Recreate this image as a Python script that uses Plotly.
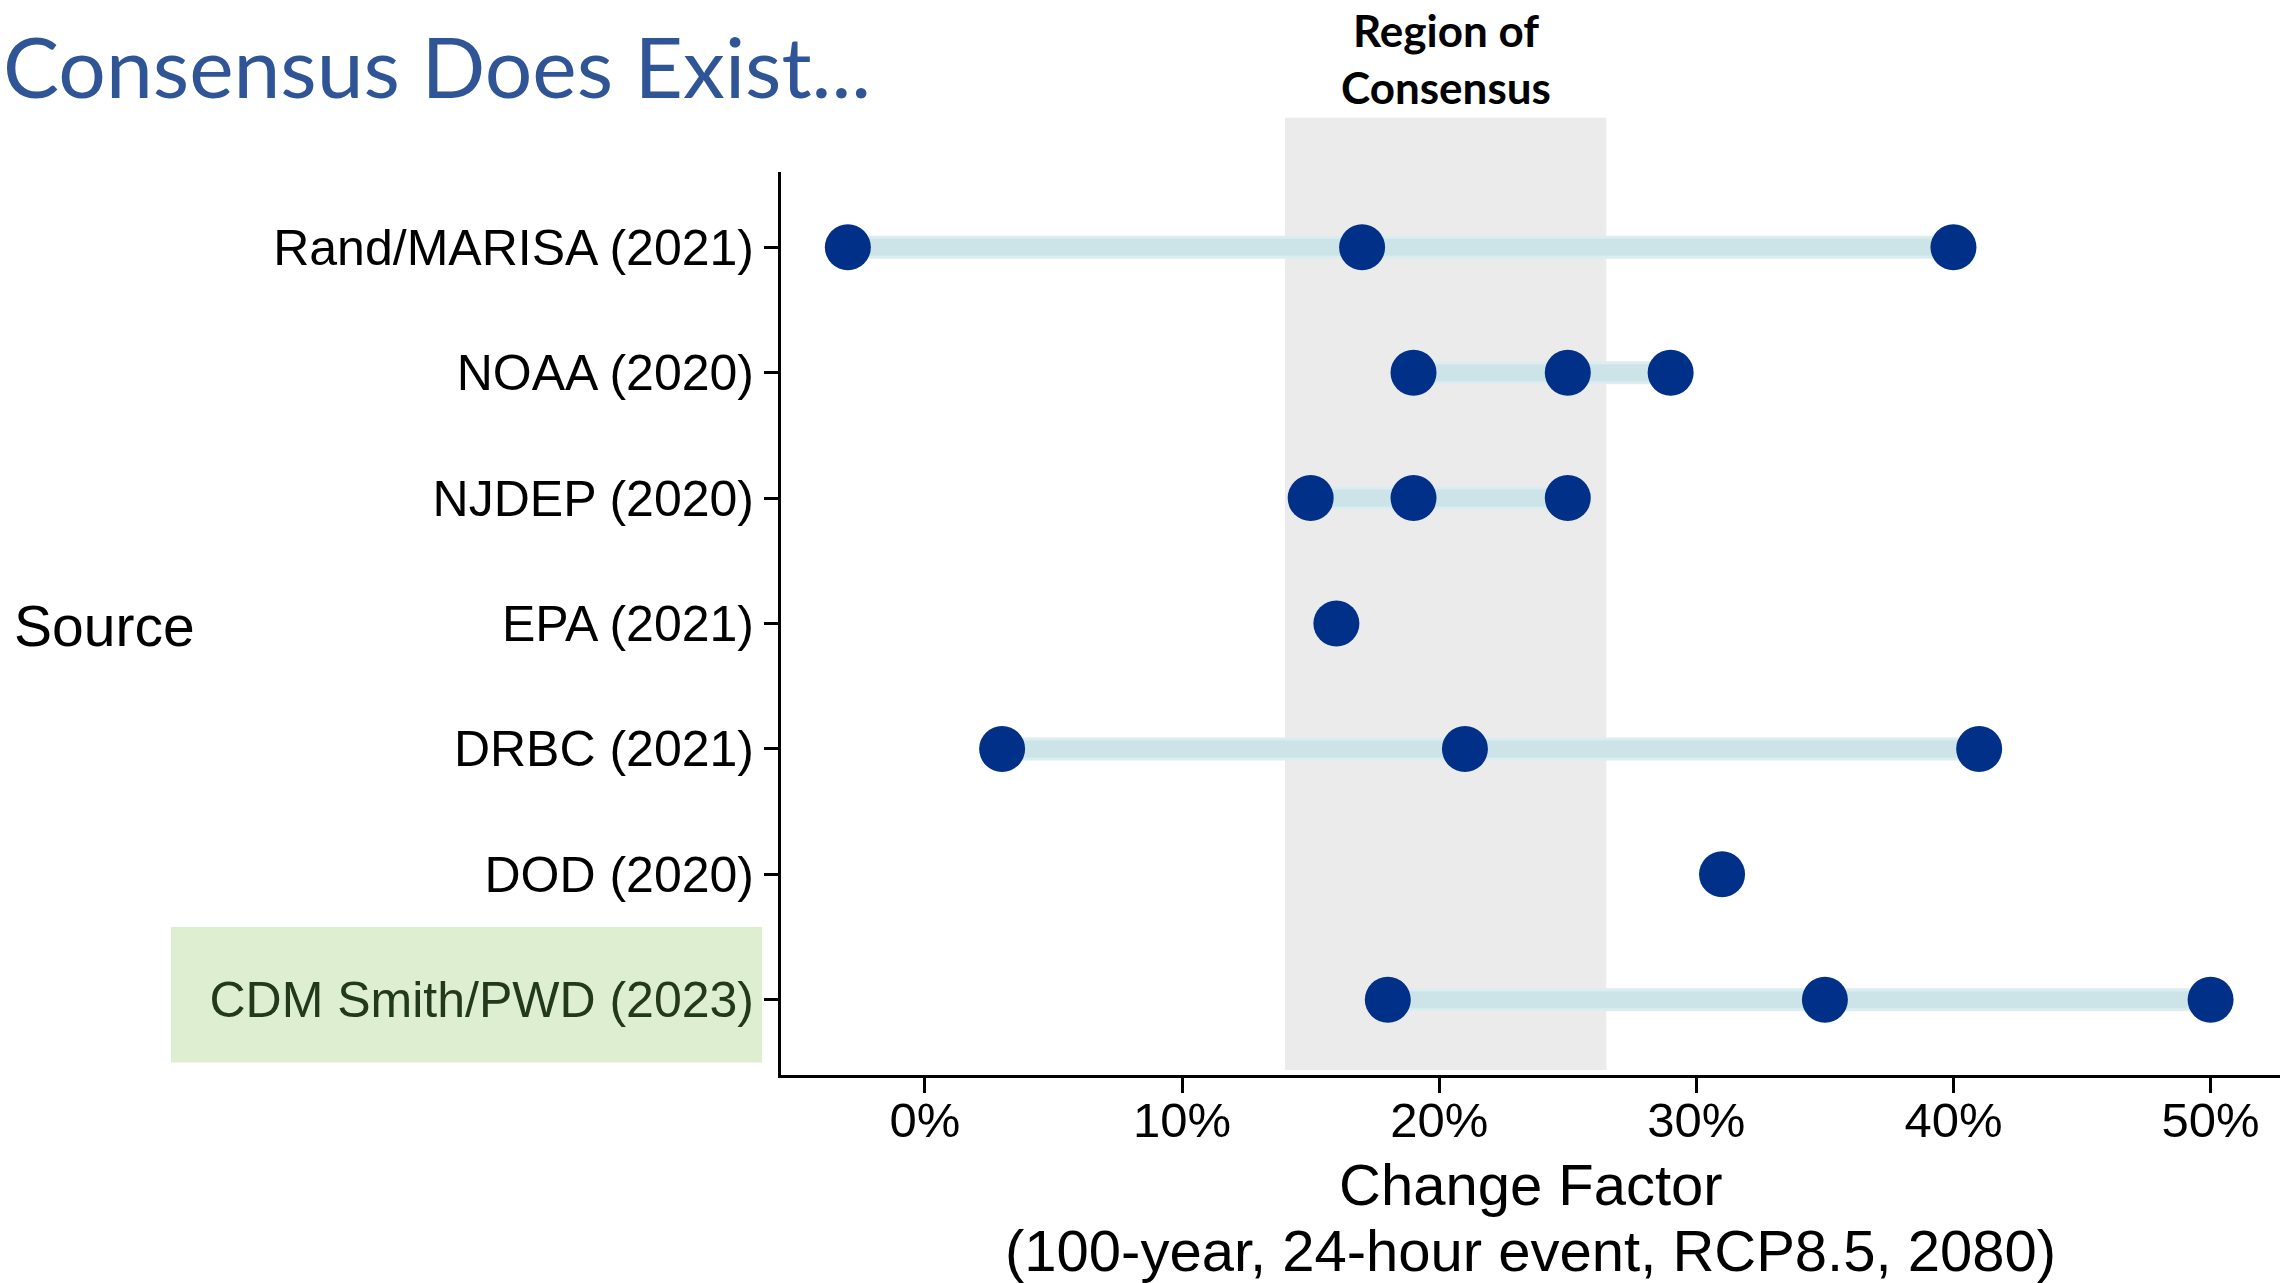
import plotly.graph_objects as go

# ---- data ----
sources = ["Rand/MARISA (2021)", "NOAA (2020)", "NJDEP (2020)", "EPA (2021)",
           "DRBC (2021)", "DOD (2020)", "CDM Smith/PWD (2023)"]
low = [-3, 19, 15, 16, 3, 31, 18]
mid = [17, 25, 19, None, 21, None, 35]
high = [40, 29, 25, None, 41, None, 50]
x_ticks = [0, 10, 20, 30, 40, 50]
x_tick_labels = ["0%", "10%", "20%", "30%", "40%", "50%"]
consensus_range = [14, 26.5]
highlight_source = "CDM Smith/PWD (2023)"

NAVY = "#003087"
TICK_FONT = "Liberation Sans, Arial, sans-serif"
TITLE_FONT = "Lato, Open Sans, sans-serif"

fig = go.Figure()

# connecting bars (low -> high)
lx, ly = [], []
for s, lo, hi in zip(sources, low, high):
    if hi is not None:
        lx += [lo, hi, None]
        ly += [s, s, None]
fig.add_trace(go.Scatter(x=lx, y=ly, mode="lines",
                         line=dict(color="#dcedf1", width=23),
                         hoverinfo="skip", showlegend=False))
fig.add_trace(go.Scatter(x=lx, y=ly, mode="lines",
                         line=dict(color="#cce4e8", width=17),
                         hoverinfo="skip", showlegend=False))

# points
px_, py_ = [], []
for s, a, b, c in zip(sources, low, mid, high):
    for v in (a, b, c):
        if v is not None:
            px_.append(v)
            py_.append(s)
fig.add_trace(go.Scatter(x=px_, y=py_, mode="markers",
                         marker=dict(color=NAVY, size=46, line=dict(width=0)),
                         showlegend=False))

ticktext = [f'<span style="color:#22391b">{s}</span>' if s == highlight_source else s
            for s in sources]

fig.update_layout(
    width=2284, height=1283,
    margin=dict(l=781, r=4, t=172, b=208),
    paper_bgcolor="white", plot_bgcolor="white",
    showlegend=False,
    xaxis=dict(range=[-5.6, 52.7], tickvals=x_ticks, ticktext=x_tick_labels,
               showgrid=False, zeroline=False,
               showline=True, linecolor="black", linewidth=3,
               ticks="outside", ticklen=15, tickwidth=2.5, tickcolor="black",
               ticklabelstandoff=-15,
               tickfont=dict(family=TICK_FONT, size=49, color="black")),
    yaxis=dict(type="category", categoryorder="array",
               categoryarray=list(reversed(sources)),
               tickvals=sources, ticktext=ticktext,
               range=[-0.6, 6.6],
               showgrid=False, zeroline=False,
               showline=True, linecolor="black", linewidth=3,
               ticks="outside", ticklen=14, tickwidth=2.5, tickcolor="black",
               tickfont=dict(family=TICK_FONT, size=50, color="black")),
)

# region of consensus band
fig.add_shape(type="rect", xref="x", yref="paper",
              x0=consensus_range[0], x1=consensus_range[1], y0=0.0055, y1=1.06,
              fillcolor="#ebebeb", line=dict(width=0), layer="below")

# highlight box behind CDM label
fig.add_shape(type="rect", xref="paper", yref="y",
              x0=-0.407, x1=-0.0127, y0=-0.5, y1=0.58,
              fillcolor="#deeed0", line=dict(width=0), layer="below")

# texts
fig.add_annotation(text="Consensus Does Exist...", xref="paper", yref="paper",
                   x=-0.5205, y=1.118, xanchor="left", yanchor="middle",
                   showarrow=False,
                   font=dict(family=TITLE_FONT, size=84, color="#2f5597"))
fig.add_annotation(text="<b>Region of</b>", xref="x", yref="paper",
                   x=sum(consensus_range) / 2, y=1.1883, xanchor="center", yanchor="top",
                   showarrow=False,
                   font=dict(family=TITLE_FONT, size=44, color="black"))
fig.add_annotation(text="<b>Consensus</b>", xref="x", yref="paper",
                   x=sum(consensus_range) / 2, y=1.0941, xanchor="center", yanchor="middle",
                   showarrow=False,
                   font=dict(family=TITLE_FONT, size=44, color="black"))
fig.add_annotation(text="Source", xref="paper", yref="paper",
                   x=-0.513, y=0.497, xanchor="left", yanchor="middle", showarrow=False,
                   font=dict(family=TICK_FONT, size=57, color="black"))
fig.add_annotation(text="Change Factor", xref="paper", yref="paper",
                   x=0.5, y=-0.121, xanchor="center", yanchor="middle", showarrow=False,
                   font=dict(family=TICK_FONT, size=58, color="black"))
fig.add_annotation(text="(100-year, 24-hour event, RCP8.5, 2080)", xref="paper", yref="paper",
                   x=0.5, y=-0.1938, xanchor="center", yanchor="middle", showarrow=False,
                   font=dict(family=TICK_FONT, size=58, color="black"))

fig.write_html("out.html", config={"displayModeBar": False},
               post_script="document.body.style.margin='0';")
